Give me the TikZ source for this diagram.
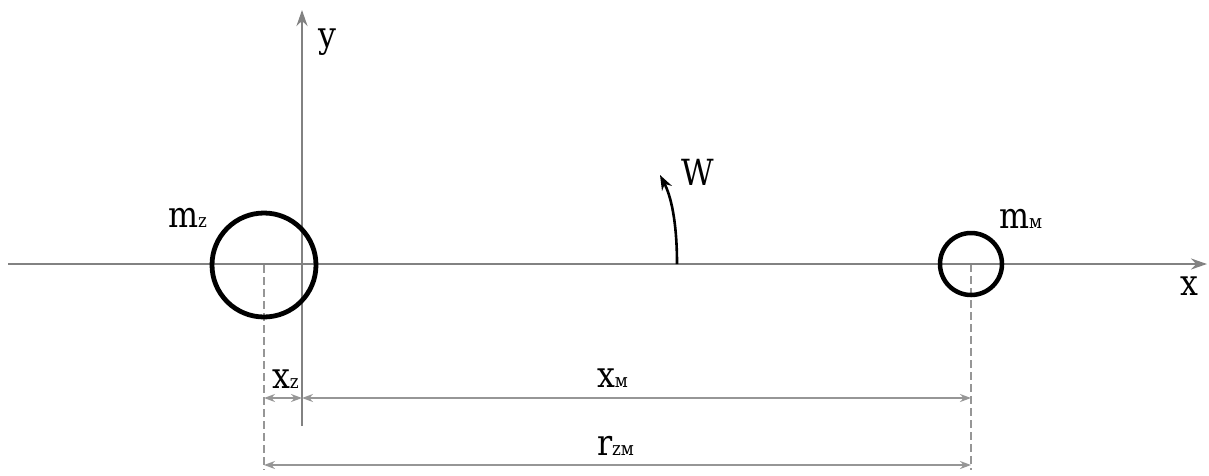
\documentclass[tikz,border=0pt]{standalone}
\usepackage{fontspec}
\setmainfont{DejaVu Serif}[FakeStretch=0.88]
\usetikzlibrary{arrows.meta}
\definecolor{axisgray}{RGB}{130,130,130}
\definecolor{dimgray}{RGB}{150,150,150}
\tikzset{
  axis/.style={draw=axisgray, line width=2.5pt, -{Stealth[length=16pt,width=11pt]}},
  body/.style={draw=black, line width=4.8pt},
  guide/.style={draw=dimgray, line width=1.6pt, dash pattern=on 8pt off 4pt},
  dimline/.style={draw=dimgray, line width=1.6pt, {Stealth[length=11pt,width=8pt]}-{Stealth[length=11pt,width=8pt]}},
  lbl/.style={inner sep=0pt, outer sep=0pt, anchor=base west, font=\fontsize{36}{40}\selectfont},
}
\newcommand{\sbs}[1]{{\fontsize{19}{20}\selectfont #1}}
\begin{document}
\begin{tikzpicture}[x=1pt,y=-1pt]
\useasboundingbox (0,0) rectangle (1209,475);
% coordinates
\coordinate (xs) at (8,264);
\coordinate (xe) at (1207,264);
\coordinate (ys) at (302,426);
\coordinate (ye) at (302,10);
\coordinate (cz) at (264,265);
\coordinate (cm) at (971,264);
\coordinate (czb) at (264,470);
\coordinate (cmb) at (971,470);
\coordinate (dz1) at (264,398);
\coordinate (dz2) at (302,398);
\coordinate (dm2) at (971,398);
\coordinate (r1) at (264,465);
\coordinate (r2) at (971,465);
\coordinate (ws) at (677,264);
\coordinate (we) at (660,175);
% guides
\draw[guide] (cz) -- (czb);
\draw[guide] (cm) -- (cmb);
% axes
\draw[axis] (xs) -- (xe);
\draw[axis] (ys) -- (ye);
% bodies
\node[body, circle, minimum size=104pt, inner sep=0pt] (earth) at (cz) {};
\node[body, circle, minimum size=62pt, inner sep=0pt, line width=4.5pt] (moon) at (cm) {};
% dimensions
\draw[dimline] (dz1) -- (dz2);
\draw[dimline] (dz2) -- (dm2);
\draw[dimline] (r1) -- (r2);
% rotation
\draw[black, line width=2.6pt, -{Stealth[length=15pt,width=11pt]}] (ws) .. controls (677,230) and (673,200) .. (we);
% labels
\node[lbl] (lmz) at (168,227) {m\sbs{z}};
\node[lbl] (lmm) at (999,228) {m\sbs{м}};
\node[lbl] (lx) at (1180,295) {x};
\node[lbl] (ly) at (318,47) {y};
\node[lbl] (lw) at (681,185) {W};
\node[lbl] (lxz) at (272,388) {x\sbs{z}};
\node[lbl] (lxm) at (597,387) {x\sbs{м}};
\node[lbl] (lr) at (597,455) {r\sbs{zм}};
\end{tikzpicture}
\end{document}
